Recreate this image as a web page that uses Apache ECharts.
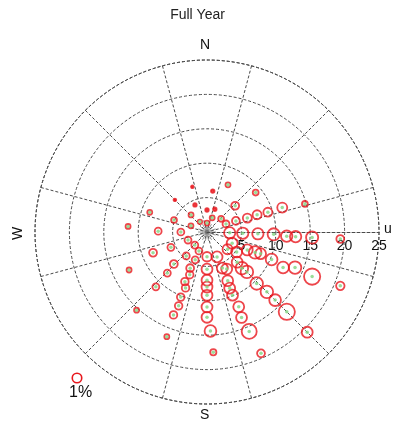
<!DOCTYPE html>
<html>
<head>
<meta charset="utf-8">
<script src="https://cdn.jsdelivr.net/npm/echarts@6/dist/echarts.min.js"></script>
<style>
  html, body { margin: 0; padding: 0; background: #fff; }
  #chart { width: 395px; height: 424px; }
</style>
</head>
<body>
<div id="chart"></div>
<script>
// Direction the wind blows toward (degrees clockwise from north)
const bearing = [
  92, 92, 92, 92, 93, 93, 93, 93,
  114, 124, 114, 113, 112, 113, 115, 112, 113, 112,
  130, 135, 136, 135, 136, 135, 135, 135, 135,
  158, 157, 152, 157, 158, 158, 157, 158, 157, 156,
  180, 180, 180, 180, 180, 180, 180, 178, 177,
  203, 203, 205, 202, 204, 201, 202, 201, 202, 201,
  223, 221, 226, 224, 223, 222,
  247, 247, 249, 244,
  270, 271, 274,
  291, 290, 289,
  325, 317, 336, 315, 342,
  0, 0, 8, 24, 20, 19,
  47, 47, 51,
  67, 69, 71, 71, 72, 72, 74
];
// Wind speed (m/s)
const speed = [
  3.3, 5.2, 7.4, 9.7, 11.6, 12.9, 15.3, 19.4,
  4.0, 5.2, 6.4, 7.6, 8.4, 10.2, 12.2, 13.8, 16.6, 20.9,
  3.9, 6.2, 7.3, 8.2, 10.4, 12.3, 14.0, 16.4, 20.6,
  3.9, 5.7, 6.1, 7.7, 8.8, 9.9, 11.8, 13.4, 15.7, 19.3,
  3.6, 5.4, 7.0, 8.0, 9.2, 10.9, 12.4, 14.4, 17.5,
  3.0, 4.4, 5.8, 6.7, 7.9, 8.7, 10.2, 11.5, 13.0, 16.3,
  2.6, 4.6, 6.7, 8.3, 10.9, 15.3,
  3.0, 5.7, 8.4, 12.6,
  3.8, 7.1, 11.5,
  2.5, 5.1, 8.8,
  1.8, 3.4, 4.3, 6.6, 6.9,
  1.3, 3.2, 6.0, 7.5, 2.2, 3.5,
  2.8, 5.6, 9.1,
  3.0, 4.5, 6.2, 7.7, 9.3, 11.5, 14.8
];
// Share of the year in each direction/speed bin (%)
const freq = [
  1.4, 1.4, 1.4, 1.6, 1.4, 1.4, 1.6, 0.7,
  1.3, 1.3, 1.3, 1.7, 1.3, 1.5, 1.5, 1.7, 2.8, 0.8,
  1.1, 1.3, 1.7, 1.7, 1.7, 1.7, 1.5, 2.8, 1.3,
  1.3, 1.3, 1.3, 1.3, 1.3, 1.3, 1.3, 1.3, 2.4, 0.7,
  1.0, 1.3, 1.3, 1.3, 1.3, 1.3, 1.3, 1.5, 0.45,
  0.55, 0.55, 0.7, 0.65, 0.65, 0.65, 0.65, 0.65, 0.65, 0.3,
  0.55, 0.55, 0.7, 0.55, 0.55, 0.3,
  0.55, 0.55, 0.7, 0.3,
  0.55, 0.55, 0.3,
  0.3, 0.4, 0.3,
  0.25, 0.3, 0.16, 0.1, 0.1,
  0.3, 0.16, 0.16, 0.3, 0.3, 0.16,
  0.4, 0.7, 0.4,
  0.55, 0.7, 0.9, 0.9, 0.9, 1.1, 0.4
];

const speedMax = 25;
const speedStep = 5;
const legendShare = 1; // % shown by the key circle

const CX = 207, CY = 232, R = 172;
const FONT = '"Liberation Sans", Arial, sans-serif';
const RED = '#e8181e';
const GRID = { color: '#4a4a4a', width: 1, type: [3, 2] };

// circle diameter grows with the square root of the share (area ~ share)
const sizeOf = f => Math.max(2.5, 10 * Math.sqrt(f) - 0.5);

const rings = bearing.map((b, i) => [speed[i], b, freq[i]]);
const centres = rings.filter(d => d[2] >= 0.2);

const chart = echarts.init(document.getElementById('chart'), null, { renderer: 'canvas' });

chart.setOption({
  animation: false,
  backgroundColor: '#fff',
  title: {
    text: 'Full Year', left: 'center', top: 3,
    textStyle: { fontFamily: FONT, fontSize: 14, fontWeight: 'normal', color: '#222' }
  },
  polar: [
    { center: [CX, CY], radius: R },           // dashed grid: rings and spokes
    { center: [CX, CY], radius: R },           // speed axis along east
    { center: [CX, CY], radius: R },           // data (compass bearings)
    { center: [CX, CY], radius: 9 }            // hub of short spokes at the origin
  ],
  angleAxis: [
    {
      polarIndex: 0, type: 'value', min: 0, max: 360, interval: 30, startAngle: 15,
      axisLine: { show: true, lineStyle: GRID },
      axisTick: { show: false }, axisLabel: { show: false },
      splitLine: { show: true, lineStyle: GRID }
    },
    {
      polarIndex: 1, type: 'value', min: 0, max: 360, startAngle: 0,
      axisLine: { show: false }, axisTick: { show: false }, axisLabel: { show: false },
      splitLine: { show: false }
    },
    {
      polarIndex: 2, type: 'value', min: 0, max: 360, startAngle: 90, clockwise: true,
      axisLine: { show: false }, axisTick: { show: false }, axisLabel: { show: false },
      splitLine: { show: false }
    },
    {
      polarIndex: 3, type: 'value', min: 0, max: 360, interval: 20, startAngle: 0,
      axisLine: { show: false }, axisTick: { show: false }, axisLabel: { show: false },
      splitLine: { show: true, lineStyle: { color: '#777', width: 0.8 } }
    }
  ],
  radiusAxis: [
    {
      polarIndex: 0, min: 0, max: speedMax, interval: speedStep,
      axisLine: { show: false }, axisTick: { show: false }, axisLabel: { show: false },
      splitLine: { show: true, lineStyle: GRID }
    },
    {
      polarIndex: 1, min: 0, max: speedMax, interval: speedStep,
      axisLine: { show: true, lineStyle: GRID },
      axisTick: { show: false },
      axisLabel: {
        show: true, margin: -7, verticalAlign: 'top',
        fontFamily: FONT, fontSize: 14, color: '#111',
        formatter: v => (v === 0 ? '' : String(v))
      },
      splitLine: { show: false }
    },
    {
      polarIndex: 2, min: 0, max: speedMax,
      axisLine: { show: false }, axisTick: { show: false }, axisLabel: { show: false },
      splitLine: { show: false }
    },
    {
      polarIndex: 3, min: 0, max: 1,
      axisLine: { show: false }, axisTick: { show: false }, axisLabel: { show: false },
      splitLine: { show: false }
    }
  ],
  series: [
    {
      type: 'scatter', coordinateSystem: 'polar', polarIndex: 2,
      data: rings,
      symbol: 'circle',
      symbolSize: d => sizeOf(d[2]),
      itemStyle: {
        color: p => (p.data[2] < 0.2 ? RED : 'rgba(0,0,0,0)'),
        borderColor: RED, borderWidth: 1.8
      },
      z: 3
    },
    {
      type: 'scatter', coordinateSystem: 'polar', polarIndex: 2,
      data: centres,
      symbol: 'circle', symbolSize: 3.5,
      itemStyle: { color: '#7fd47f' },
      z: 4
    }
  ],
  graphic: [
    { type: 'text', left: 200, top: 38, style: { text: 'N', font: '14px ' + FONT, fill: '#111' } },
    { type: 'text', left: 200, top: 408, style: { text: 'S', font: '14px ' + FONT, fill: '#111' } },
    { type: 'text', x: 11, y: 240, rotation: Math.PI / 2,
      style: { text: 'W', font: '14px ' + FONT, fill: '#111' } },
    { type: 'text', left: 384, top: 222, style: { text: 'u', font: '14px ' + FONT, fill: '#111' } },
    { type: 'circle', shape: { cx: 77, cy: 378, r: sizeOf(legendShare) / 2 },
      style: { fill: 'none', stroke: RED, lineWidth: 1.6 } },
    { type: 'text', left: 69, top: 385,
      style: { text: legendShare + '%', font: '16px ' + FONT, fill: '#111' } }
  ]
});
</script>
</body>
</html>
